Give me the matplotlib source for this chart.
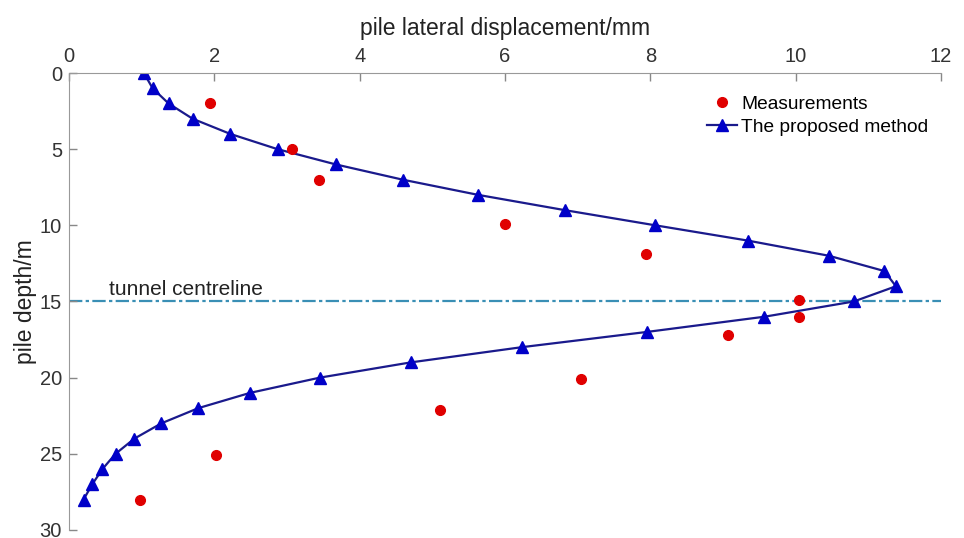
import numpy as np
import matplotlib.pyplot as plt

plt.rcParams['font.family'] = ['Liberation Sans', 'DejaVu Sans']

# model curve (the proposed method)
depth_model = [0, 1, 2, 3, 4, 5, 6, 7, 8, 9, 10, 11, 12, 13, 14,
               15, 16, 17, 18, 19, 20, 21, 22, 23, 24, 25, 26, 27, 28]
disp_model = [1.03, 1.15, 1.37, 1.70, 2.22, 2.87, 3.67, 4.59, 5.63, 6.82, 8.07, 9.34, 10.46, 11.22, 11.38,
              10.80, 9.57, 7.95, 6.23, 4.70, 3.45, 2.49, 1.78, 1.27, 0.90, 0.64, 0.46, 0.32, 0.20]

# field measurements
depth_meas = [2.0, 5.0, 7.0, 9.9, 11.9, 14.9, 16.0, 17.2, 20.1, 22.1, 25.1, 28.0]
disp_meas = [1.94, 3.07, 3.44, 6.00, 7.94, 10.05, 10.05, 9.07, 7.05, 5.10, 2.02, 0.97]

tunnel_depth = 15

fig = plt.figure(figsize=(9.64, 5.38), dpi=100)
ax = fig.add_axes([0.0716, 0.0149, 0.9045, 0.8494])

ax.axhline(tunnel_depth, color='#3a8fb5', lw=1.6, ls=(0, (6, 1.5, 1.5, 1.5)), zorder=1)
ax.text(0.55, 14.6, 'tunnel centreline', fontsize=15, color='#222222')

ax.plot(disp_meas, depth_meas, 'o', color='#e00000', markersize=7, label='Measurements', zorder=3)
ax.plot(disp_model, depth_model, '-^', color='#1a1a8c', lw=1.6, markersize=8.5,
        markerfacecolor='#0000c8', markeredgecolor='#0000c8', label='The proposed method', zorder=2)

ax.set_xlim(0, 12)
ax.set_ylim(30, 0)
ax.set_xticks(np.arange(0, 13, 2))
ax.set_yticks(np.arange(0, 31, 5))
ax.xaxis.tick_top()
ax.xaxis.set_label_position('top')
ax.set_xlabel('pile lateral displacement/mm', fontsize=16.5, color='#222222', labelpad=9)
ax.set_ylabel('pile depth/m', fontsize=16.5, color='#222222')
ax.yaxis.set_label_coords(-0.037, 0.5)
ax.tick_params(direction='in', length=6, width=1, color='#888888', labelsize=14.5,
               labelcolor='#333333', pad=5)
for s in ['bottom', 'right']:
    ax.spines[s].set_visible(False)
for s in ['top', 'left']:
    ax.spines[s].set_color('#999999')

ax.legend(loc='upper left', bbox_to_anchor=(0.725, 0.837), bbox_transform=fig.transFigure,
          frameon=False, fontsize=13.8, handlelength=1.6, handletextpad=0.2,
          labelspacing=0.3, borderaxespad=0)

fig.savefig('out.png', dpi=100)
